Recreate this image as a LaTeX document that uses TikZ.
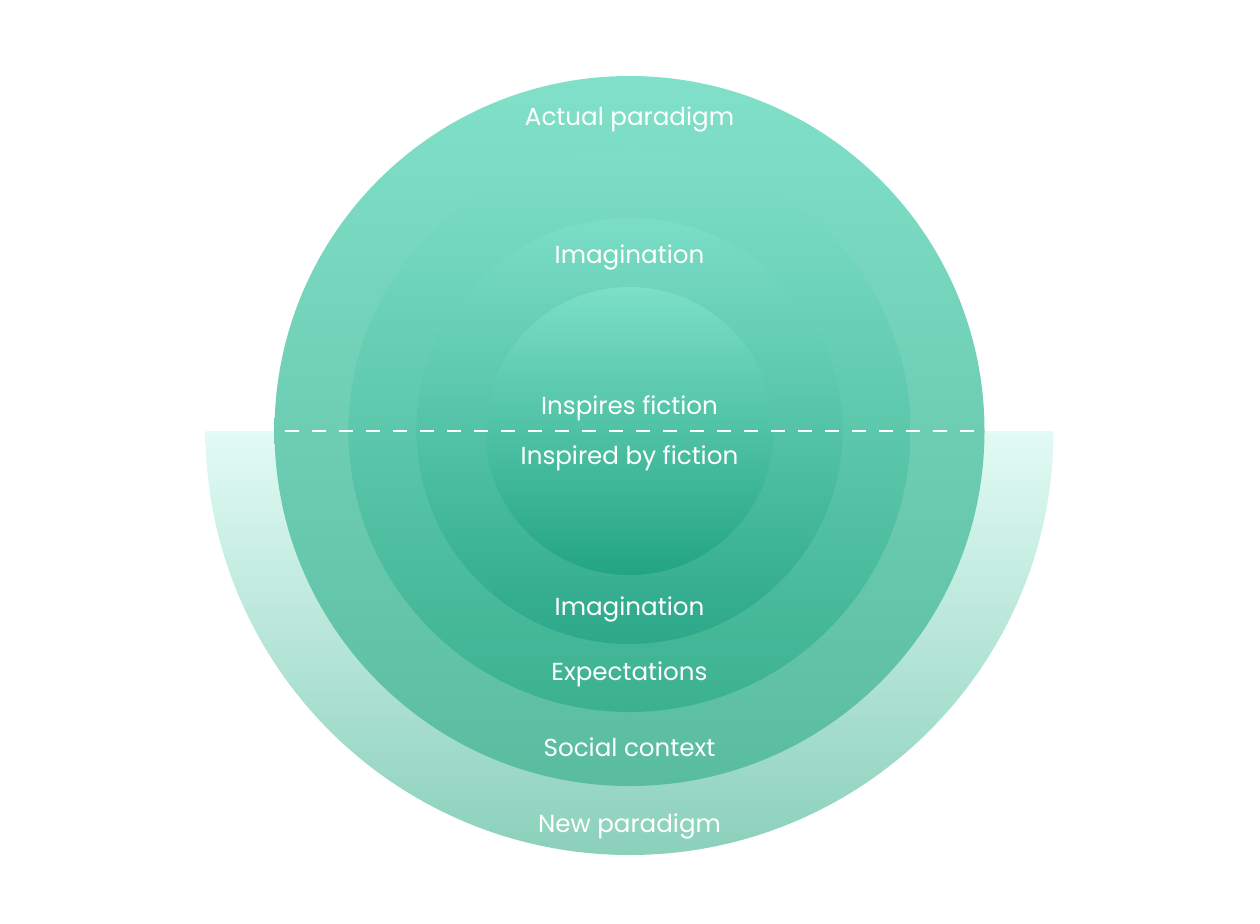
\documentclass[tikz,border=0pt]{standalone}
\usepackage{fontspec}
\setmainfont{Poppins}
\definecolor{npTop}{HTML}{E2FBF4}
\definecolor{npBot}{HTML}{8AD0BA}
\definecolor{c1Top}{HTML}{80E0C9}
\definecolor{c1Bot}{HTML}{5ABC9F}
\definecolor{c2Top}{HTML}{7DDEC6}
\definecolor{c2Bot}{HTML}{3BB190}
\definecolor{c3Top}{HTML}{7BDDC5}
\definecolor{c3Bot}{HTML}{2CA888}
\definecolor{c4Top}{HTML}{7CDFC8}
\definecolor{c4Bot}{HTML}{22A482}
\begin{document}
\begin{tikzpicture}[x=1pt,y=-1pt,
  lbl/.style={text=white,font=\fontsize{24.6}{30}\selectfont,anchor=base,inner sep=0pt}]
\useasboundingbox (0,0) rectangle (1260,923);
\fill[white] (0,0) rectangle (1260,923);
\coordinate (c) at (629.5,431);
% new paradigm half disc
\shade[top color=npTop,bottom color=npBot] (205.5,431) arc[start angle=180,end angle=360,x radius=424,y radius=-424] -- cycle;
% nested circles
\shade[top color=c1Top,bottom color=c1Bot] (c) circle[radius=355];
\shade[top color=c2Top,bottom color=c2Bot] (c) circle[radius=281];
\shade[top color=c3Top,bottom color=c3Bot] (c) circle[radius=213];
\shade[top color=c4Top,bottom color=c4Bot] (c) circle[radius=144];
% dashed divider
\coordinate (dl) at (285,431);
\coordinate (dr) at (976,431);
\draw[white,line width=1.4pt,dash pattern=on 14pt off 13pt] (dl) -- (dr);
% labels
\node[lbl] (actual) at (629.5,126) {Actual paradigm};
\node[lbl] (imag1) at (629.5,263) {Imagination};
\node[lbl] (insp) at (629.5,414) {Inspires fiction};
\node[lbl] (inspby) at (629.5,464) {Inspired by fiction};
\node[lbl] (imag2) at (629.5,615) {Imagination};
\node[lbl] (expect) at (629.5,680) {Expectations};
\node[lbl] (social) at (629.5,756) {Social context};
\node[lbl] (newp) at (629.5,832) {New paradigm};
\end{tikzpicture}
\end{document}
